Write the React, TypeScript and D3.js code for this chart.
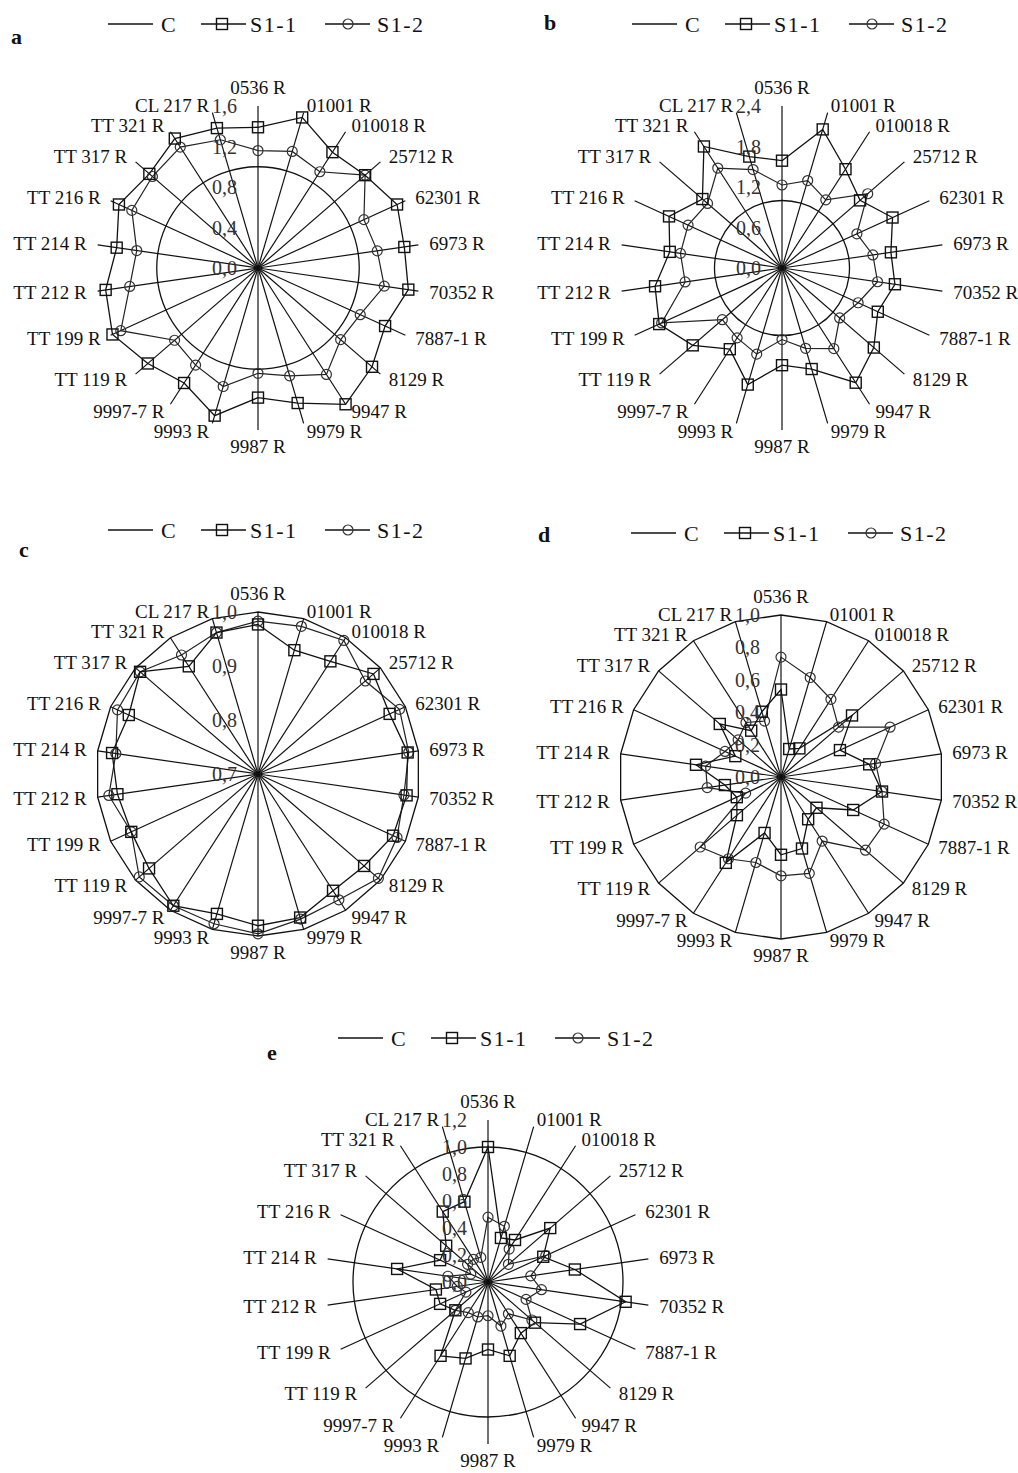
import React from 'react'
import * as d3 from 'd3'

// accession names, clockwise from the top
const categories = [
  '0536 R', '01001 R', '010018 R', '25712 R', '62301 R', '6973 R', '70352 R',
  '7887-1 R', '8129 R', '9947 R', '9979 R', '9987 R', '9993 R', '9997-7 R',
  'TT 119 R', 'TT 199 R', 'TT 212 R', 'TT 214 R', 'TT 216 R', 'TT 317 R',
  'TT 321 R', 'CL 217 R'
]

// control = 1 everywhere
const control = [1, 1, 1, 1, 1, 1, 1, 1, 1, 1, 1, 1, 1, 1, 1, 1, 1, 1, 1, 1, 1, 1]

const aS11 = [1.39, 1.55, 1.36, 1.40, 1.51, 1.46, 1.50, 1.38, 1.49, 1.60, 1.39, 1.28, 1.52, 1.35, 1.44, 1.58, 1.52, 1.41, 1.51, 1.42, 1.52, 1.44]
const aS12 = [1.16, 1.20, 1.13, 1.40, 1.15, 1.19, 1.26, 1.11, 1.08, 1.25, 1.11, 1.04, 1.22, 1.14, 1.09, 1.49, 1.28, 1.21, 1.37, 1.38, 1.42, 1.32]
const aTicks = [0, 0.4, 0.8, 1.2, 1.6]

const bS11 = [1.59, 2.14, 1.74, 1.53, 1.80, 1.63, 1.69, 1.56, 1.80, 2.02, 1.56, 1.44, 1.80, 1.43, 1.75, 2.00, 1.90, 1.68, 1.84, 1.56, 2.14, 1.72]
const bS12 = [1.23, 1.35, 1.20, 1.68, 1.22, 1.36, 1.43, 1.24, 1.13, 1.42, 1.24, 1.06, 1.33, 1.23, 1.17, 1.96, 1.45, 1.52, 1.53, 1.46, 1.76, 1.52]
const bTicks = [0, 0.6, 1.2, 1.8, 2.4]

const cS11 = [0.977, 0.939, 0.948, 0.983, 0.968, 0.980, 0.978, 0.975, 0.960, 0.957, 0.977, 0.981, 0.970, 0.990, 0.967, 0.958, 0.963, 0.973, 0.963, 0.989, 0.937, 0.973]
const cS12 = [0.983, 0.985, 0.994, 0.963, 0.988, 0.982, 0.973, 0.983, 0.995, 0.977, 0.980, 0.996, 0.989, 0.990, 0.991, 0.958, 0.979, 0.966, 0.986, 0.989, 0.962, 0.973]
const cTicks = [0.7, 0.8, 0.9, 1.0]

const dS11 = [0.54, 0.18, 0.21, 0.58, 0.40, 0.55, 0.63, 0.49, 0.29, 0.31, 0.46, 0.48, 0.36, 0.63, 0.36, 0.30, 0.35, 0.53, 0.31, 0.50, 0.34, 0.42]
const dS12 = [0.74, 0.64, 0.57, 0.47, 0.74, 0.59, 0.63, 0.70, 0.69, 0.47, 0.62, 0.61, 0.55, 0.60, 0.66, 0.24, 0.46, 0.47, 0.38, 0.35, 0.40, 0.36]
const dTicks = [0, 0.2, 0.4, 0.6, 0.8, 1.0]

const eS11 = [1.00, 0.34, 0.37, 0.61, 0.45, 0.65, 1.03, 0.75, 0.46, 0.45, 0.57, 0.50, 0.59, 0.65, 0.32, 0.39, 0.39, 0.68, 0.39, 0.41, 0.62, 0.62]
const eS12 = [0.48, 0.43, 0.29, 0.20, 0.47, 0.32, 0.40, 0.31, 0.43, 0.28, 0.34, 0.25, 0.27, 0.27, 0.32, 0.18, 0.23, 0.30, 0.14, 0.20, 0.20, 0.19]
const eTicks = [0, 0.2, 0.4, 0.6, 0.8, 1.0, 1.2]

const W = 1018
const H = 1473
const R = 162
const FONT = '"Liberation Serif", "Times New Roman", serif'
const INK = '#111'

type Panel = {
  id: string
  cx: number
  cy: number
  ticks: number[]
  s11: number[]
  s12: number[]
  roundC: boolean
  lx: number
  ly: number
}

const panels: Panel[] = [
  { id: 'a', cx: 258, cy: 268, ticks: aTicks, s11: aS11, s12: aS12, roundC: true, lx: 11, ly: 44 },
  { id: 'b', cx: 782, cy: 268, ticks: bTicks, s11: bS11, s12: bS12, roundC: true, lx: 544, ly: 30 },
  { id: 'c', cx: 258, cy: 774, ticks: cTicks, s11: cS11, s12: cS12, roundC: false, lx: 19, ly: 557 },
  { id: 'd', cx: 781, cy: 777, ticks: dTicks, s11: dS11, s12: dS12, roundC: false, lx: 538, ly: 542 },
  { id: 'e', cx: 488, cy: 1282, ticks: eTicks, s11: eS11, s12: eS12, roundC: true, lx: 267, ly: 1060 },
]

const step = (2 * Math.PI) / categories.length

function Square({ x, y }: { x: number; y: number }) {
  return <rect x={x - 5.5} y={y - 5.5} width={11} height={11} fill="none" stroke={INK} strokeWidth={1.4} />
}

function Ring({ x, y }: { x: number; y: number }) {
  return <circle cx={x} cy={y} r={5} fill="none" stroke="#333" strokeWidth={1.2} />
}

function Legend({ cx, y }: { cx: number; y: number }) {
  const fs = 22
  return (
    <g fontFamily={FONT} fontSize={fs} fill={INK}>
      <line x1={cx - 150} x2={cx - 105} y1={y} y2={y} stroke={INK} strokeWidth={1.3} />
      <text x={cx - 97} y={y} dy="0.35em">C</text>
      <line x1={cx - 57} x2={cx - 12} y1={y} y2={y} stroke={INK} strokeWidth={1.3} />
      <Square x={cx - 36} y={y} />
      <text x={cx - 8} y={y} dy="0.35em" letterSpacing={1.5}>S1-1</text>
      <line x1={cx + 67} x2={cx + 112} y1={y} y2={y} stroke={INK} strokeWidth={1.3} />
      <Ring x={cx + 90} y={y} />
      <text x={cx + 119} y={y} dy="0.35em" letterSpacing={1.5}>S1-2</text>
    </g>
  )
}

function Radar({ p }: { p: Panel }) {
  const lo = p.ticks[0]
  const hi = p.ticks[p.ticks.length - 1]
  const r = d3.scaleLinear().domain([lo, hi]).range([0, R])

  const pt = (v: number, i: number): [number, number] => [
    Math.sin(i * step) * r(v),
    -Math.cos(i * step) * r(v),
  ]

  const line = (curve: d3.CurveFactory) =>
    d3.lineRadial<number>()
      .angle((_, i) => i * step)
      .radius(d => r(d))
      .curve(curve)

  const cPath = line(p.roundC ? d3.curveCatmullRomClosed : d3.curveLinearClosed)(control) || ''
  const s11Path = line(d3.curveLinearClosed)(p.s11) || ''
  const s12Path = line(d3.curveLinearClosed)(p.s12) || ''

  return (
    <g>
      <Legend cx={p.cx} y={p.cy - 244} />
      <text x={p.lx} y={p.ly} fontFamily={FONT} fontSize={22} fontWeight="bold" fill={INK}>{p.id}</text>
      <g transform={`translate(${p.cx},${p.cy})`}>
        {categories.map((c, i) => {
          const s = Math.sin(i * step)
          const co = Math.cos(i * step)
          const ex = s * R
          const ey = -co * R
          let x = ex + s * 11
          let y = ey - co * 8
          let anchor = s > 0 ? 'start' : 'end'
          if (Math.abs(s) < 0.05) {
            x = ex
            y = co > 0 ? ey - 19 : ey + 16
            anchor = 'middle'
          }
          return (
            <g key={c}>
              <line x1={0} y1={0} x2={ex} y2={ey} stroke={INK} strokeWidth={1.2} />
              <text x={x} y={y} dy="0.35em" textAnchor={anchor} fontFamily={FONT} fontSize={19} fill={INK}>{c}</text>
            </g>
          )
        })}
        <path d={cPath} fill="none" stroke={INK} strokeWidth={1.3} />
        <path d={s12Path} fill="none" stroke="#222" strokeWidth={1.2} />
        <path d={s11Path} fill="none" stroke={INK} strokeWidth={1.3} />
        {p.s12.map((v, i) => {
          const [x, y] = pt(v, i)
          return <Ring key={'r' + i} x={x} y={y} />
        })}
        {p.s11.map((v, i) => {
          const [x, y] = pt(v, i)
          return <Square key={'s' + i} x={x} y={y} />
        })}
        {p.ticks.map(t => (
          <text key={'t' + t} x={-21} y={-r(t)} dy="0.35em" textAnchor="end" fontFamily={FONT} fontSize={20} fill="#333">
            {d3.format('.1f')(t).replace('.', ',')}
          </text>
        ))}
      </g>
    </g>
  )
}

export default function App() {
  return (
    <svg width={W} height={H} style={{ position: 'absolute', left: 0, top: 0, background: '#fff' }}>
      <rect width={W} height={H} fill="#fff" />
      {panels.map(p => <Radar key={p.id} p={p} />)}
    </svg>
  )
}
